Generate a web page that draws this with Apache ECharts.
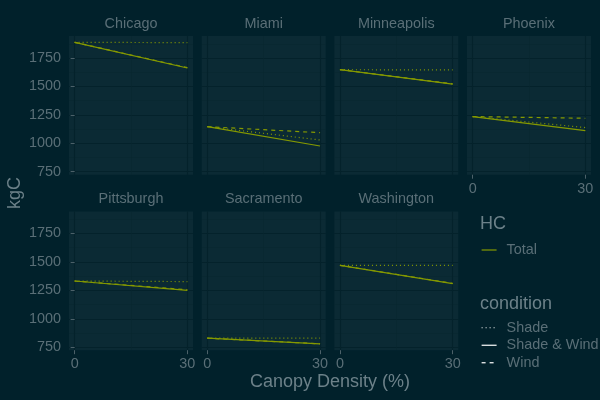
<!DOCTYPE html>
<html><head><meta charset="utf-8">
<script src="https://cdn.jsdelivr.net/npm/echarts@6/dist/echarts.min.js"></script>
<style>html,body{margin:0;padding:0;background:#01212B}#c{width:600px;height:400px}</style>
</head><body><div id="c"></div>
<script>
// ---- data ----
const cities = ['Chicago', 'Miami', 'Minneapolis', 'Phoenix', 'Pittsburgh', 'Sacramento', 'Washington'];
const canopy = [0, 30];                                   // Canopy Density (%)
const startHC = [1888, 1146, 1647, 1235, 1332, 829, 1470]; // kgC at 0 % canopy
const shadeEnd = [1885, 1029, 1645, 1138, 1327, 830, 1470];
const shadeWindEnd = [1662, 976, 1521, 1111, 1250, 779, 1309];
const windEnd = [1665, 1093, 1523, 1220, 1255, 780, 1311];
const conditions = ['Shade', 'Shade & Wind', 'Wind'];
const hcLevels = ['Total'];
const yTicks = [750, 1000, 1250, 1500, 1750];
const yMinor = [875, 1125, 1375, 1625, 1875];
const xTicks = [0, 30];
const xMinor = [15];

// ---- style ----
const FONT = '"Liberation Sans", Arial, Helvetica, sans-serif';
const BG = '#01212B', PANEL = '#0B2A34', MAJ = '#04222B', MIN = '#08262F';
const TXT = '#5a6f77', TITLE = '#6c8189', LINE = '#859900';
const colLeft = [69, 201.7, 334.3, 467];
const PW = 124;
const rowTop = [36, 211.5];
const PH = 138.7;
const dashes = { 'Shade': [1, 3], 'Shade & Wind': 'solid', 'Wind': [4, 4] };

const all = startHC.concat(shadeEnd, shadeWindEnd, windEnd);
const lo = Math.min(...all), hi = Math.max(...all);
const pad = (hi - lo) * 0.05;
const yMin = lo - pad, yMax = hi + pad;
const xPad = (canopy[1] - canopy[0]) * 0.05;
const plain = v => String(Math.round(v));

const grids = [], xAxes = [], yAxes = [], xMinAxes = [], yMinAxes = [], series = [], graphics = [];
cities.forEach((c, i) => {
  const col = i % 4, row = Math.floor(i / 4);
  const L = colLeft[col], T = rowTop[row];
  grids.push({ left: L, top: T, width: PW, height: PH, show: true, backgroundColor: PANEL, borderWidth: 0, containLabel: false });
  const hasX = row === 1 || col === 3;
  const hasY = col === 0;
  xAxes.push({
    gridIndex: i, type: 'value', min: canopy[0] - xPad, max: canopy[1] + xPad, position: 'bottom',
    axisLine: { show: false },
    axisTick: { show: hasX, length: 4, customValues: xTicks, lineStyle: { color: '#4c6169', width: 1 } },
    axisLabel: { show: hasX, customValues: xTicks, formatter: plain, margin: 7, color: TXT, fontSize: 14.4, fontFamily: FONT },
    splitLine: { show: true, lineStyle: { color: MAJ, width: 1.1 } }
  });
  xMinAxes.push({
    gridIndex: i, type: 'value', min: canopy[0] - xPad, max: canopy[1] + xPad, position: 'bottom',
    axisLine: { show: false }, axisTick: { show: false, customValues: xMinor }, axisLabel: { show: false, customValues: xMinor },
    splitLine: { show: true, lineStyle: { color: MIN, width: 0.6 } }
  });
  yAxes.push({
    gridIndex: i, type: 'value', min: yMin, max: yMax, position: 'left',
    axisLine: { show: false },
    axisTick: { show: hasY, length: 4, customValues: yTicks, lineStyle: { color: '#4c6169', width: 1 } },
    axisLabel: { show: hasY, customValues: yTicks, formatter: plain, margin: 8, color: TXT, fontSize: 14.4, fontFamily: FONT },
    splitLine: { show: true, lineStyle: { color: MAJ, width: 1.1 } }
  });
  yMinAxes.push({
    gridIndex: i, type: 'value', min: yMin, max: yMax, position: 'left',
    axisLine: { show: false }, axisTick: { show: false, customValues: yMinor }, axisLabel: { show: false, customValues: yMinor },
    splitLine: { show: true, lineStyle: { color: MIN, width: 0.6 } }
  });
  const ends = { 'Shade': shadeEnd[i], 'Shade & Wind': shadeWindEnd[i], 'Wind': windEnd[i] };
  conditions.forEach(cond => {
    series.push({
      type: 'line', name: cond, xAxisIndex: i, yAxisIndex: i, symbol: 'none', silent: true,
      lineStyle: { color: LINE, width: 1.2, type: dashes[cond] }, itemStyle: { color: LINE },
      data: [[canopy[0], startHC[i]], [canopy[1], ends[cond]]]
    });
  });
  graphics.push({ type: 'text', x: L + PW / 2, y: T - 12, silent: true,
    style: { text: c, fill: TXT, font: '14.4px ' + FONT, align: 'center', verticalAlign: 'middle' } });
});
// legend-only series for the colour scale (HC)
series.push({ type: 'line', name: hcLevels[0], xAxisIndex: 0, yAxisIndex: 0, symbol: 'none', data: [],
  lineStyle: { color: LINE, width: 1.2 }, itemStyle: { color: LINE } });

graphics.push({ type: 'text', x: 15, y: 193, rotation: Math.PI / 2, silent: true,
  style: { text: 'kgC', fill: TITLE, font: '18px ' + FONT, align: 'center', verticalAlign: 'middle' } });
graphics.push({ type: 'text', x: 330, y: 382, silent: true,
  style: { text: 'Canopy Density (%)', fill: TITLE, font: '18px ' + FONT, align: 'center', verticalAlign: 'middle' } });
graphics.push({ type: 'text', x: 480, y: 224.5, silent: true,
  style: { text: 'HC', fill: TITLE, font: '18px ' + FONT, align: 'left', verticalAlign: 'middle' } });
graphics.push({ type: 'text', x: 480, y: 303.8, silent: true,
  style: { text: 'condition', fill: TITLE, font: '18px ' + FONT, align: 'left', verticalAlign: 'middle' } });

const legText = { color: TXT, fontSize: 14.4, fontFamily: FONT, lineHeight: 17.5, padding: [0, 0, 0, 5] };
const noSym = { color: 'rgba(0,0,0,0)', borderWidth: 0, opacity: 0 };
const legends = [
  { orient: 'vertical', left: 481, top: 241.25, padding: 0, itemGap: 0, itemWidth: 15, itemHeight: 17.5,
    selectedMode: false, textStyle: legText,
    data: hcLevels.map(n => ({ name: n, itemStyle: noSym, lineStyle: { color: LINE, width: 1.2, type: 'solid' } })) },
  { orient: 'vertical', left: 481, top: 319, padding: 0, itemGap: 0, itemWidth: 15, itemHeight: 17.5,
    selectedMode: false, textStyle: legText,
    data: conditions.map(n => ({ name: n, itemStyle: noSym, lineStyle: { color: '#ffffff', width: 1.2, type: dashes[n] } })) }
];

const chart = echarts.init(document.getElementById('c'), null, { renderer: 'canvas' });
chart.setOption({
  backgroundColor: BG,
  animation: false,
  grid: grids,
  xAxis: xAxes.concat(xMinAxes),
  yAxis: yAxes.concat(yMinAxes),
  legend: legends,
  series: series,
  graphic: graphics
});
</script></body></html>
